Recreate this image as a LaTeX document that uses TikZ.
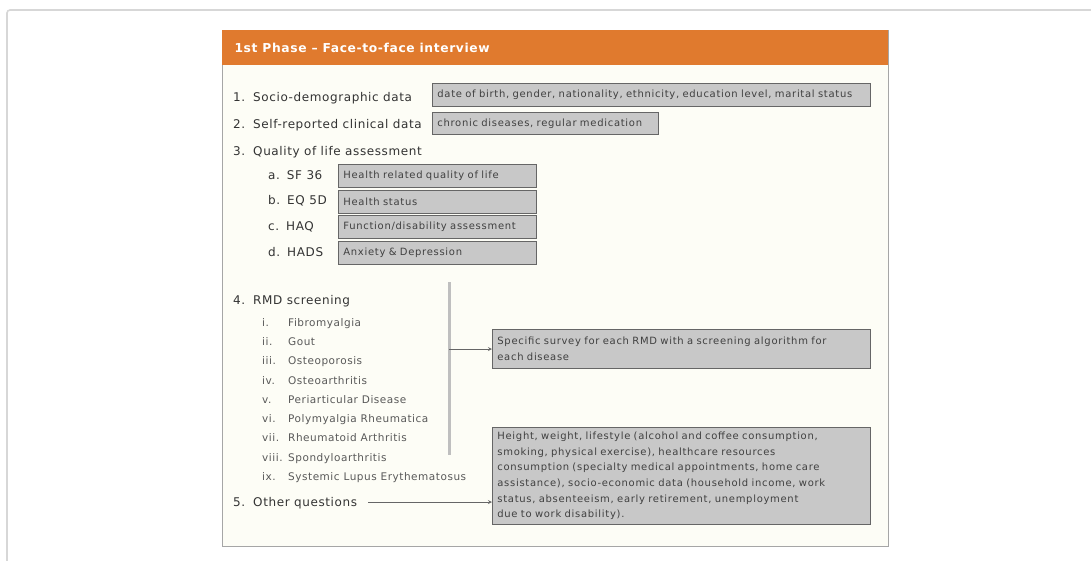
\documentclass[tikz,border=0pt]{standalone}
\usepackage{fontspec}
\setmainfont{DejaVu Sans}
\usepackage{tikz}
\usetikzlibrary{positioning}

\definecolor{phaseorange}{RGB}{224,122,46}
\definecolor{panelcream}{RGB}{253,253,246}
\definecolor{boxgray}{RGB}{200,200,200}
\definecolor{framegray}{RGB}{215,215,215}

\begin{document}
\begin{tikzpicture}[x=1pt,y=-1pt]
		\tikzset{item style/.style={anchor=base west, inner sep=0pt,
				font=\fontsize{12}{14}\selectfont\addfontfeature{LetterSpace=5}, text=black!80},
			sub style/.style={anchor=base west, inner sep=0pt,
				font=\fontsize{10.5}{12}\selectfont\addfontfeature{LetterSpace=5}, text=black!65},
			info box/.style={draw=black!60, fill=boxgray, line width=0.8pt,
				anchor=north west, inner xsep=5pt, inner ysep=3pt,
				align=left, text=black!75,
				font=\fontsize{10}{15.6}\selectfont\addfontfeature{LetterSpace=7}},
			connector/.style={->, >=stealth, draw=black!60, line width=0.8pt}}
		
		\useasboundingbox (0,0) rectangle (1091,560);
		
		% Draw the frame and the panel
		\draw[framegray, line width=1.6pt, rounded corners=3pt] (7,10) rectangle (1110,580);
		\draw[black!35, fill=panelcream, line width=0.8pt] (222,30) rectangle (888,546);
		\fill[phaseorange] (222,30) rectangle (888,65);
		\node[anchor=west, text=white, font=\bfseries\fontsize{12.3}{14}\selectfont\addfontfeature{LetterSpace=5}] (title) at (231,48) {1st Phase – Face-to-face interview};
		
		% Draw the list
		\node[item style] (socio) at (233,101) {1.\hspace{8pt}Socio-demographic data};
		\node[item style] (self) at (233,128) {2.\hspace{8pt}Self-reported clinical data};
		\node[item style] (qol) at (233,155) {3.\hspace{8pt}Quality of life assessment};
		\node[item style] (sf) at (268,179) {a.\hspace{7pt}SF 36};
		\node[item style] (eq) at (268,204) {b.\hspace{7pt}EQ 5D};
		\node[item style] (haq) at (268,230) {c.\hspace{7pt}HAQ};
		\node[item style] (hads) at (268,256) {d.\hspace{7pt}HADS};
		\node[item style] (rmd) at (233,304) {4.\hspace{8pt}RMD screening};
		\node[sub style] at (262,326) (fib) {i.}; \node[sub style] at (288,326) {Fibromyalgia};
		\node[sub style] at (262,345) (gout) {ii.}; \node[sub style] at (288,345) {Gout};
		\node[sub style] at (262,364) (osp) {iii.}; \node[sub style] at (288,364) {Osteoporosis};
		\node[sub style] at (262,384) (osa) {iv.}; \node[sub style] at (288,384) {Osteoarthritis};
		\node[sub style] at (262,403) (peri) {v.}; \node[sub style] at (288,403) {Periarticular Disease};
		\node[sub style] at (262,422) (poly) {vi.}; \node[sub style] at (288,422) {Polymyalgia Rheumatica};
		\node[sub style] at (262,441) (ra) {vii.}; \node[sub style] at (288,441) {Rheumatoid Arthritis};
		\node[sub style] at (262,461) (spa) {viii.}; \node[sub style] at (288,461) {Spondyloarthritis};
		\node[sub style] at (262,480) (sle) {ix.}; \node[sub style] at (288,480) {Systemic Lupus Erythematosus};
		\node[item style] (other) at (233,506) {5.\hspace{8pt}Other questions};
		
		% Draw the boxes
		\node[info box, text width=428pt, minimum height=23pt] at (432,83) (sociobox) {date of birth, gender, nationality, ethnicity, education level, marital status};
		\node[info box, text width=216pt, minimum height=22pt] at (432,112) (selfbox) {chronic diseases, regular medication};
		\node[info box, text width=188pt, minimum height=23pt] at (338,164) (sfbox) {Health related quality of life};
		\node[info box, text width=188pt, minimum height=23pt] at (338,190) (eqbox) {Health status};
		\node[info box, text width=188pt, minimum height=23pt] at (338,215) (haqbox) {Function/disability assessment};
		\node[info box, text width=188pt, minimum height=23pt] at (338,241) (hadsbox) {Anxiety \& Depression};
		\node[info box, text width=368pt, minimum height=39pt] at (492,329) (rmdbox) {Specific survey for each RMD with a screening algorithm for\\ each disease};
		\node[info box, text width=368pt, minimum height=97pt] at (492,427) (otherbox) {Height, weight, lifestyle (alcohol and coffee consumption,\\ smoking, physical exercise), healthcare resources\\ consumption (specialty medical appointments, home care\\ assistance), socio-economic data (household income, work\\ status, absenteeism, early retirement, unemployment\\ due to work disability).};
		
		% Connect the list with the boxes
		\coordinate (bartop) at (449,282);
		\coordinate (barbot) at (449,455);
		\coordinate (barjoin) at (449,349);
		\coordinate (otherjoin) at (368,502);
		\draw[black!25, line width=3pt] (bartop) -- (barbot);
		\draw[connector] (barjoin) -- (barjoin -| rmdbox.west);
		\draw[connector] (otherjoin) -- (otherjoin -| otherbox.west);
		
		\end{tikzpicture}
\end{document}
